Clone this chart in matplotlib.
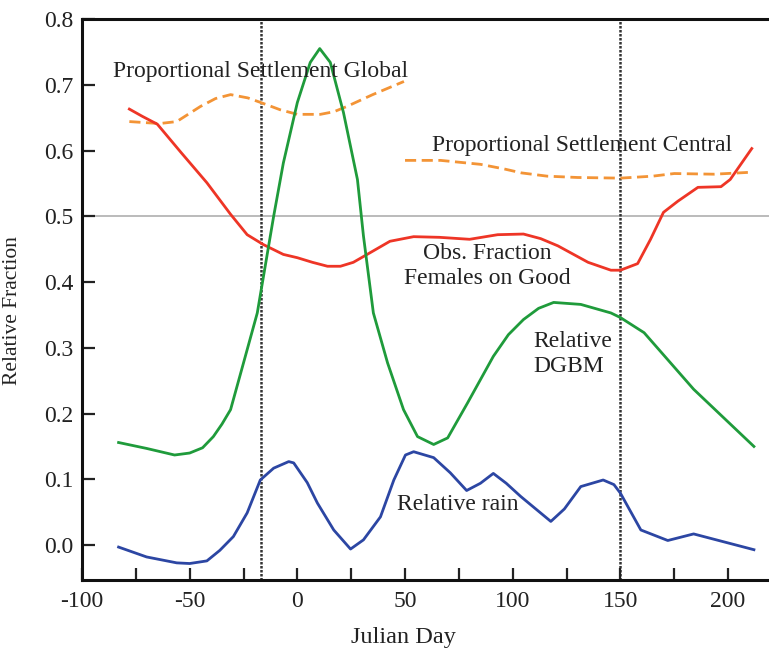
import matplotlib
matplotlib.use("Agg")
import matplotlib.pyplot as plt
from matplotlib.ticker import MultipleLocator

plt.rcParams['font.family'] = ['Liberation Serif', 'DejaVu Serif']
plt.rcParams['axes.unicode_minus'] = False

# Obs. fraction of females on good territory
fem_day = [-78, -72, -65, -54, -42, -31, -23.3, -15.8, -6.5, 0, 7, 14, 20, 26, 34, 43,
           54, 66, 80, 93, 105, 113, 121, 135, 145.6, 150, 158, 164, 170, 176.7, 186, 196.7,
           201, 211]
fem_frac = [0.663, 0.652, 0.640, 0.597, 0.551, 0.503, 0.472, 0.457, 0.442, 0.437, 0.430, 0.424,
            0.424, 0.430, 0.445, 0.462, 0.469, 0.468, 0.465, 0.472, 0.473, 0.466, 0.455, 0.430,
            0.418, 0.418, 0.428, 0.465, 0.506, 0.523, 0.544, 0.545, 0.556, 0.603]

# Proportional settlement, global
glob_day = [-78, -64, -56, -45, -38, -31, -23, -17, -8, 0, 10.7, 17, 23, 35, 49.5]
glob_frac = [0.644, 0.641, 0.644, 0.667, 0.679, 0.685, 0.680, 0.673, 0.662, 0.655, 0.655,
             0.659, 0.667, 0.685, 0.705]

# Proportional settlement, central
cent_day = [50, 66.5, 85, 96, 104, 116, 130, 150, 165, 175, 193.5, 211]
cent_frac = [0.585, 0.585, 0.579, 0.572, 0.566, 0.561, 0.559, 0.558, 0.561, 0.565, 0.564, 0.567]

# Relative DGBM
dgbm_day = [-83, -70, -57, -50, -44, -39, -35, -31, -25, -18.6, -11, -6.5, 0, 6, 10.4, 15.3,
            21.4, 27.9, 30.7, 35.3, 41.9, 49.3, 55.8, 63.3, 69.8, 79, 91, 98, 105, 112, 119,
            131.6, 145.6, 150, 161, 184, 212]
dgbm_frac = [0.156, 0.147, 0.137, 0.140, 0.148, 0.165, 0.184, 0.206, 0.277, 0.353, 0.500, 0.581,
             0.673, 0.734, 0.755, 0.734, 0.658, 0.556, 0.470, 0.353, 0.277, 0.206, 0.165, 0.153,
             0.163, 0.216, 0.287, 0.320, 0.343, 0.360, 0.369, 0.366, 0.353, 0.346, 0.323, 0.237,
             0.150]

# Relative rain
rain_day = [-83, -70, -56, -50, -42, -36, -29.7, -23.3, -17.2, -11, -4, -1.7, 4.6, 9.3, 16.9,
            24.7, 30.7, 38.6, 44.8, 50.2, 54, 63.3, 71, 78.6, 85, 91, 97, 103.7, 117.7, 124,
            131.6, 142, 147, 150, 159.5, 172, 184, 212]
rain_frac = [-0.003, -0.018, -0.027, -0.028, -0.024, -0.008, 0.013, 0.049, 0.099, 0.117, 0.127,
             0.125, 0.095, 0.064, 0.023, -0.006, 0.008, 0.043, 0.099, 0.137, 0.142, 0.133,
             0.110, 0.083, 0.094, 0.109, 0.094, 0.074, 0.036, 0.055, 0.089, 0.099, 0.092, 0.079,
             0.023, 0.007, 0.017, -0.007]

vlines = [-17, 150]

fig = plt.figure(figsize=(7.69, 6.48), dpi=100)
ax = fig.add_axes([0.1066, 0.105, 0.8934, 0.8657])

ax.axhline(0.5, color='#b5b5b5', lw=1.3, zorder=1)
for v in vlines:
    ax.axvline(v, color='#333333', lw=1.8, ls=(0, (1, 0.6)), zorder=1)

lw = 2.0
ax.plot(glob_day, glob_frac, color='#f39436', lw=lw, ls=(0, (4, 2)))
ax.plot(cent_day, cent_frac, color='#f39436', lw=lw, ls=(0, (4, 2)))
ax.plot(fem_day, fem_frac, color='#ee3526', lw=lw)
ax.plot(dgbm_day, dgbm_frac, color='#1f9b3b', lw=lw)
ax.plot(rain_day, rain_frac, color='#2c46a3', lw=lw)

fs = 17
tc = '#222222'
ax.text(-85.6, 0.720, 'Proportional Settlement Global', fontsize=fs, ha='left', va='center', color=tc)
ax.text(62.3, 0.608, 'Proportional Settlement Central', fontsize=fs, ha='left', va='center', color=tc)
ax.text(88.4, 0.425, 'Obs. Fraction\nFemales on Good', fontsize=fs, ha='center', va='center',
        color=tc, linespacing=1.25)
ax.text(109.8, 0.291, 'Relative\nDGBM', fontsize=fs, ha='left', va='center', color=tc, linespacing=1.25)
ax.text(46.5, 0.061, 'Relative rain', fontsize=fs, ha='left', va='center', color=tc)

ax.set_xlim(-100, 219)
ax.set_ylim(-0.053, 0.8)
ax.xaxis.set_major_locator(MultipleLocator(50))
ax.xaxis.set_minor_locator(MultipleLocator(25))
ax.set_yticks([0.0, 0.1, 0.2, 0.3, 0.4, 0.5, 0.6, 0.7, 0.8])
ax.set_yticklabels(['0.0', '0.1', '0.2', '0.3', '0.4', '0.5', '0.6', '0.7', '0.8'])
ax.tick_params(axis='both', which='both', direction='in', length=9, width=1.6, labelsize=17,
               colors=tc)
ax.tick_params(axis='x', which='both', pad=8)
ax.tick_params(axis='y', which='both', pad=6)

for side in ['left', 'bottom', 'top']:
    ax.spines[side].set_linewidth(2.2)
    ax.spines[side].set_color('#111111')
ax.spines['right'].set_visible(False)

ax.set_xlabel('Julian Day', fontsize=17.5, color=tc)
ax.xaxis.set_label_coords(0.468, -0.083)
ax.set_ylabel('Relative Fraction', fontsize=15.5, color=tc)
ax.yaxis.set_label_coords(-0.088, 0.481)

fig.savefig('out.png', dpi=100)
